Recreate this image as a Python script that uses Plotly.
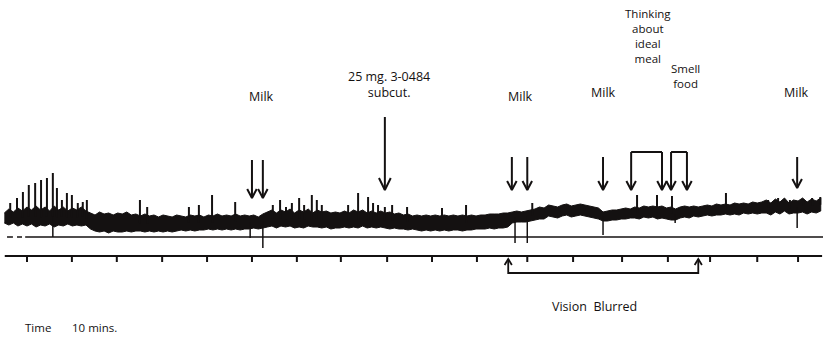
import numpy as np
import plotly.graph_objects as go

# ---- Kymograph record -------------------------------------------------------
# Time along the drum (min), one reading per minute, and the upper / lower
# edge of the inked trace (height above the signal line, arbitrary units).
sample_t = list(range(-5, 176))
trace_top = [
    24, 28, 25, 29, 26, 30, 27, 31, 27, 30, 26, 31, 27, 30, 26, 29, 27, 30, 26,  # -5..13
    24, 22, 25, 23, 24, 22, 24, 23, 25, 22, 23, 21, 23, 21, 22, 20, 22, 21, 20,  # 14..32
    22, 21, 20, 22, 21, 22, 20, 22, 21, 23, 21, 22, 21, 23, 21, 22,              # 33..48
    21, 22, 20, 23,                                                              # 49..52
    25, 27, 24, 27, 25, 28, 24, 27, 25, 28, 24, 27, 25, 26, 24, 25, 24, 26, 24,  # 53..71
    27, 25, 27, 24, 26, 24, 26, 24, 25, 23, 24,                                  # 72..82
    22, 23, 21, 22, 21, 22, 21, 22, 21, 22, 21, 22, 21, 22, 21, 22, 21, 22, 22,  # 83..101
    23, 23, 23, 24, 24,                                                          # 102..106
    25, 26, 25, 26,                                                              # 107..110
    27, 28, 30, 29, 32, 31, 30, 32, 33, 31, 32, 33, 32, 31, 30, 29,              # 111..126
    25, 26, 27, 27,                                                              # 127..130
    28, 29, 28, 30, 29, 31, 30, 31, 30, 31, 29, 30, 28, 30, 31, 30, 31, 30,      # 131..148
    31, 32, 31, 33, 32, 33, 32, 34, 33, 34, 33, 35, 34, 35,                      # 149..162
    37, 34, 38, 35, 39, 34, 37, 36, 39, 35, 38, 36, 39,                          # 163..175
]
trace_bot = [
    14, 12, 14, 11, 13, 11, 13, 10, 12, 11, 13, 10, 12, 11, 13, 11, 12, 11, 12,  # -5..13
    8, 6, 5, 6, 4, 6, 5, 5, 6, 5, 6, 6, 5, 6, 5, 6, 5, 6, 5,                     # 14..32
    6, 7, 6, 7, 6, 7, 7, 8, 7, 8, 7, 8, 7, 8, 7, 8,                              # 33..48
    8, 9, 8, 9,                                                                  # 49..52
    10, 11, 9, 11, 10, 11, 9, 10, 9, 11, 10, 10, 9, 10, 8, 9, 9, 10, 9,          # 53..71
    10, 9, 11, 9, 10, 9, 10, 9, 8, 9, 8,                                         # 72..82
    8, 7, 8, 7, 6, 7, 6, 7, 6, 7, 6, 7, 7, 6, 7, 7, 8, 8, 8,                     # 83..101
    9, 8, 9, 9, 10,                                                              # 102..106
    14, 15, 15, 15,                                                              # 107..110
    16, 17, 18, 18, 21, 20, 19, 21, 22, 20, 21, 22, 21, 20, 19, 18,              # 111..126
    16, 16, 17, 17,                                                              # 127..130
    18, 18, 19, 19, 18, 20, 19, 20, 18, 19, 18, 17, 17, 19, 20, 19, 21, 20,      # 131..148
    21, 22, 21, 22, 22, 23, 22, 23, 22, 24, 23, 24, 23, 24,                      # 149..162
    24, 22, 25, 23, 26, 23, 24, 24, 25, 23, 25, 24, 26,                          # 163..175
]

# Sharp upward contractions: time and peak height
spike_t = [-3.7, -2.2, -0.9, 0.4, 1.8, 3.1, 4.4, 5.7, 6.6, 7.7, 8.8, 9.9, 11.2,
           12.3, 13.2, 24.9, 26.5, 35.7, 37.9, 40.8, 45.9, 54.2, 55.8, 57.1,
           58.4, 60.0, 61.1, 62.8, 63.9, 65.0, 70.8, 73.0, 75.2, 76.3, 77.4,
           78.9, 80.5, 83.8, 91.5, 96.8, 111.4, 117.5, 123.0, 134.5, 138.9,
           142.2, 154.1, 163.4, 165.6, 168.2, 171.1, 173.1, 174.9]
spike_top = [34, 39, 45, 52, 54, 57, 59, 64, 49, 37, 44, 42, 34, 35, 37, 37, 30,
             30, 32, 42, 35, 32, 37, 30, 34, 39, 32, 42, 37, 32, 32, 44, 40, 34,
             32, 30, 32, 30, 29, 32, 34, 30, 29, 42, 42, 41, 44, 37, 39, 37, 38,
             39, 40]

# Downward deflections: time and lowest point
dip_t = [5.7, 49.2, 52.0, 107.6, 110.3, 127.0, 142.9, 169.8]
dip_bottom = [0, -1, -11, -6, -6, 2, 14, 9]

# Clock marks on the time line (one every 10 min)
time_marks = [0, 9.9, 19.8, 29.8, 39.7, 49.6, 59.5, 69.2, 79.4, 89.3, 99.2,
              110.3, 120.4, 131.2, 141.3, 150.6, 161.0, 170.0]

# Events
milk_t = [49.6, 52.0, 106.9, 110.3, 127.0, 169.8]
dose_t = 78.9
thinking_t = [133.2, 140.0]
smell_t = [142.0, 145.5]
blur_t = [106.1, 148.0]

# ---- Drawing ----------------------------------------------------------------
INK = "#141111"
X_RANGE = [-5.95, 176.6]
Y_RANGE = [-100, 237]
HEAD_W = 1.05   # arrow-head half width (min)
HEAD_H = 9      # arrow-head height

fig = go.Figure()


def add_lines(xs, ys, width, color=INK):
    fig.add_trace(go.Scatter(x=xs, y=ys, mode="lines", hoverinfo="skip",
                             line=dict(color=color, width=width),
                             showlegend=False))


# inked band of the trace
band_x = sample_t + sample_t[::-1]
band_y = trace_top + trace_bot[::-1]
fig.add_trace(go.Scatter(x=band_x, y=band_y, mode="lines", fill="toself",
                         fillcolor=INK, line=dict(color=INK, width=1.0),
                         hoverinfo="skip", showlegend=False))

mid = (np.array(trace_top) + np.array(trace_bot)) / 2.0

# spikes
sx, sy = [], []
for t, top in zip(spike_t, spike_top):
    base = float(np.interp(t, sample_t, mid))
    sx += [t, t, None]
    sy += [base, top, None]
add_lines(sx, sy, 2.0)

# dips
dx, dy = [], []
for t, bot in zip(dip_t, dip_bottom):
    base = float(np.interp(t, sample_t, mid))
    dx += [t, t, None]
    dy += [base, bot, None]
add_lines(dx, dy, 1.5)

# signal line (short dashes at the very start)
add_lines([-4.4, -3.1, None, -2.2, -1.1, None, -0.4, 175.5],
          [0, 0, None, 0, 0, None, 0, 0], 1.5)

# time line with clock marks
tx, ty = [-4.9, 175.3, None], [-19, -19, None]
for m in time_marks:
    tx += [m, m, None]
    ty += [-19, -25, None]
add_lines(tx, ty, 2.0)


def down_arrow(t, top, tip, xs, ys, hw=HEAD_W, hh=HEAD_H):
    xs += [t, t, None, t - hw, t, t + hw, None]
    ys += [top, tip, None, tip + hh, tip, tip + hh, None]


ax, ay = [], []
milk_tops = [77, 77, 80, 80, 80, 80]
milk_tips = [39, 39, 47, 47, 47, 49]
for t, top, tip in zip(milk_t, milk_tops, milk_tips):
    down_arrow(t, top, tip, ax, ay)
down_arrow(dose_t, 120, 47, ax, ay, hw=1.3, hh=12)

# bracketed arrows (thinking about a meal, smelling food)
for pair in (thinking_t, smell_t):
    for t in pair:
        down_arrow(t, 85, 47, ax, ay)
    ax += [pair[0], pair[1], None]
    ay += [85, 85, None]
add_lines(ax, ay, 2.0)

# "vision blurred" bracket under the time line
bx = [blur_t[0], blur_t[0], blur_t[1], blur_t[1], None]
by = [-22, -36, -36, -22, None]
for t in blur_t:
    bx += [t - 0.8, t, t + 0.8, None]
    by += [-28, -22, -28, None]
add_lines(bx, by, 1.8)

# ---- Labels -----------------------------------------------------------------
FONT = "'Open Sans', Lato, sans-serif"


def label(text, t, y, size=12.5, anchor="center"):
    fig.add_annotation(x=t, y=y, xref="x", yref="y", text=text,
                       showarrow=False, xanchor=anchor, yanchor="middle",
                       font=dict(family=FONT, size=size, color=INK))


label("Milk", 51.8, 141)
label("Milk", 108.7, 141)
label("Milk", 127.0, 145)
label("Milk", 169.6, 145)
label("25 mg. 3-0484<br>subcut.", 79.8, 153, size=12.5)
label("Thinking<br>about<br>ideal<br>meal", 136.9, 201, size=11.5)
label("Smell<br>food", 145.1, 161, size=11.5)
label("Vision&nbsp; Blurred", 125.2, -69, size=12.5)
label("Time", -0.9, -90, size=11.5, anchor="left")
label("10 mins.", 9.5, -90, size=11.5, anchor="left")

fig.update_layout(
    width=828, height=337,
    margin=dict(l=0, r=0, t=0, b=0),
    paper_bgcolor="white", plot_bgcolor="white",
    xaxis=dict(range=X_RANGE, visible=False, fixedrange=True),
    yaxis=dict(range=Y_RANGE, visible=False, fixedrange=True),
)

fig.write_html("out.html")
